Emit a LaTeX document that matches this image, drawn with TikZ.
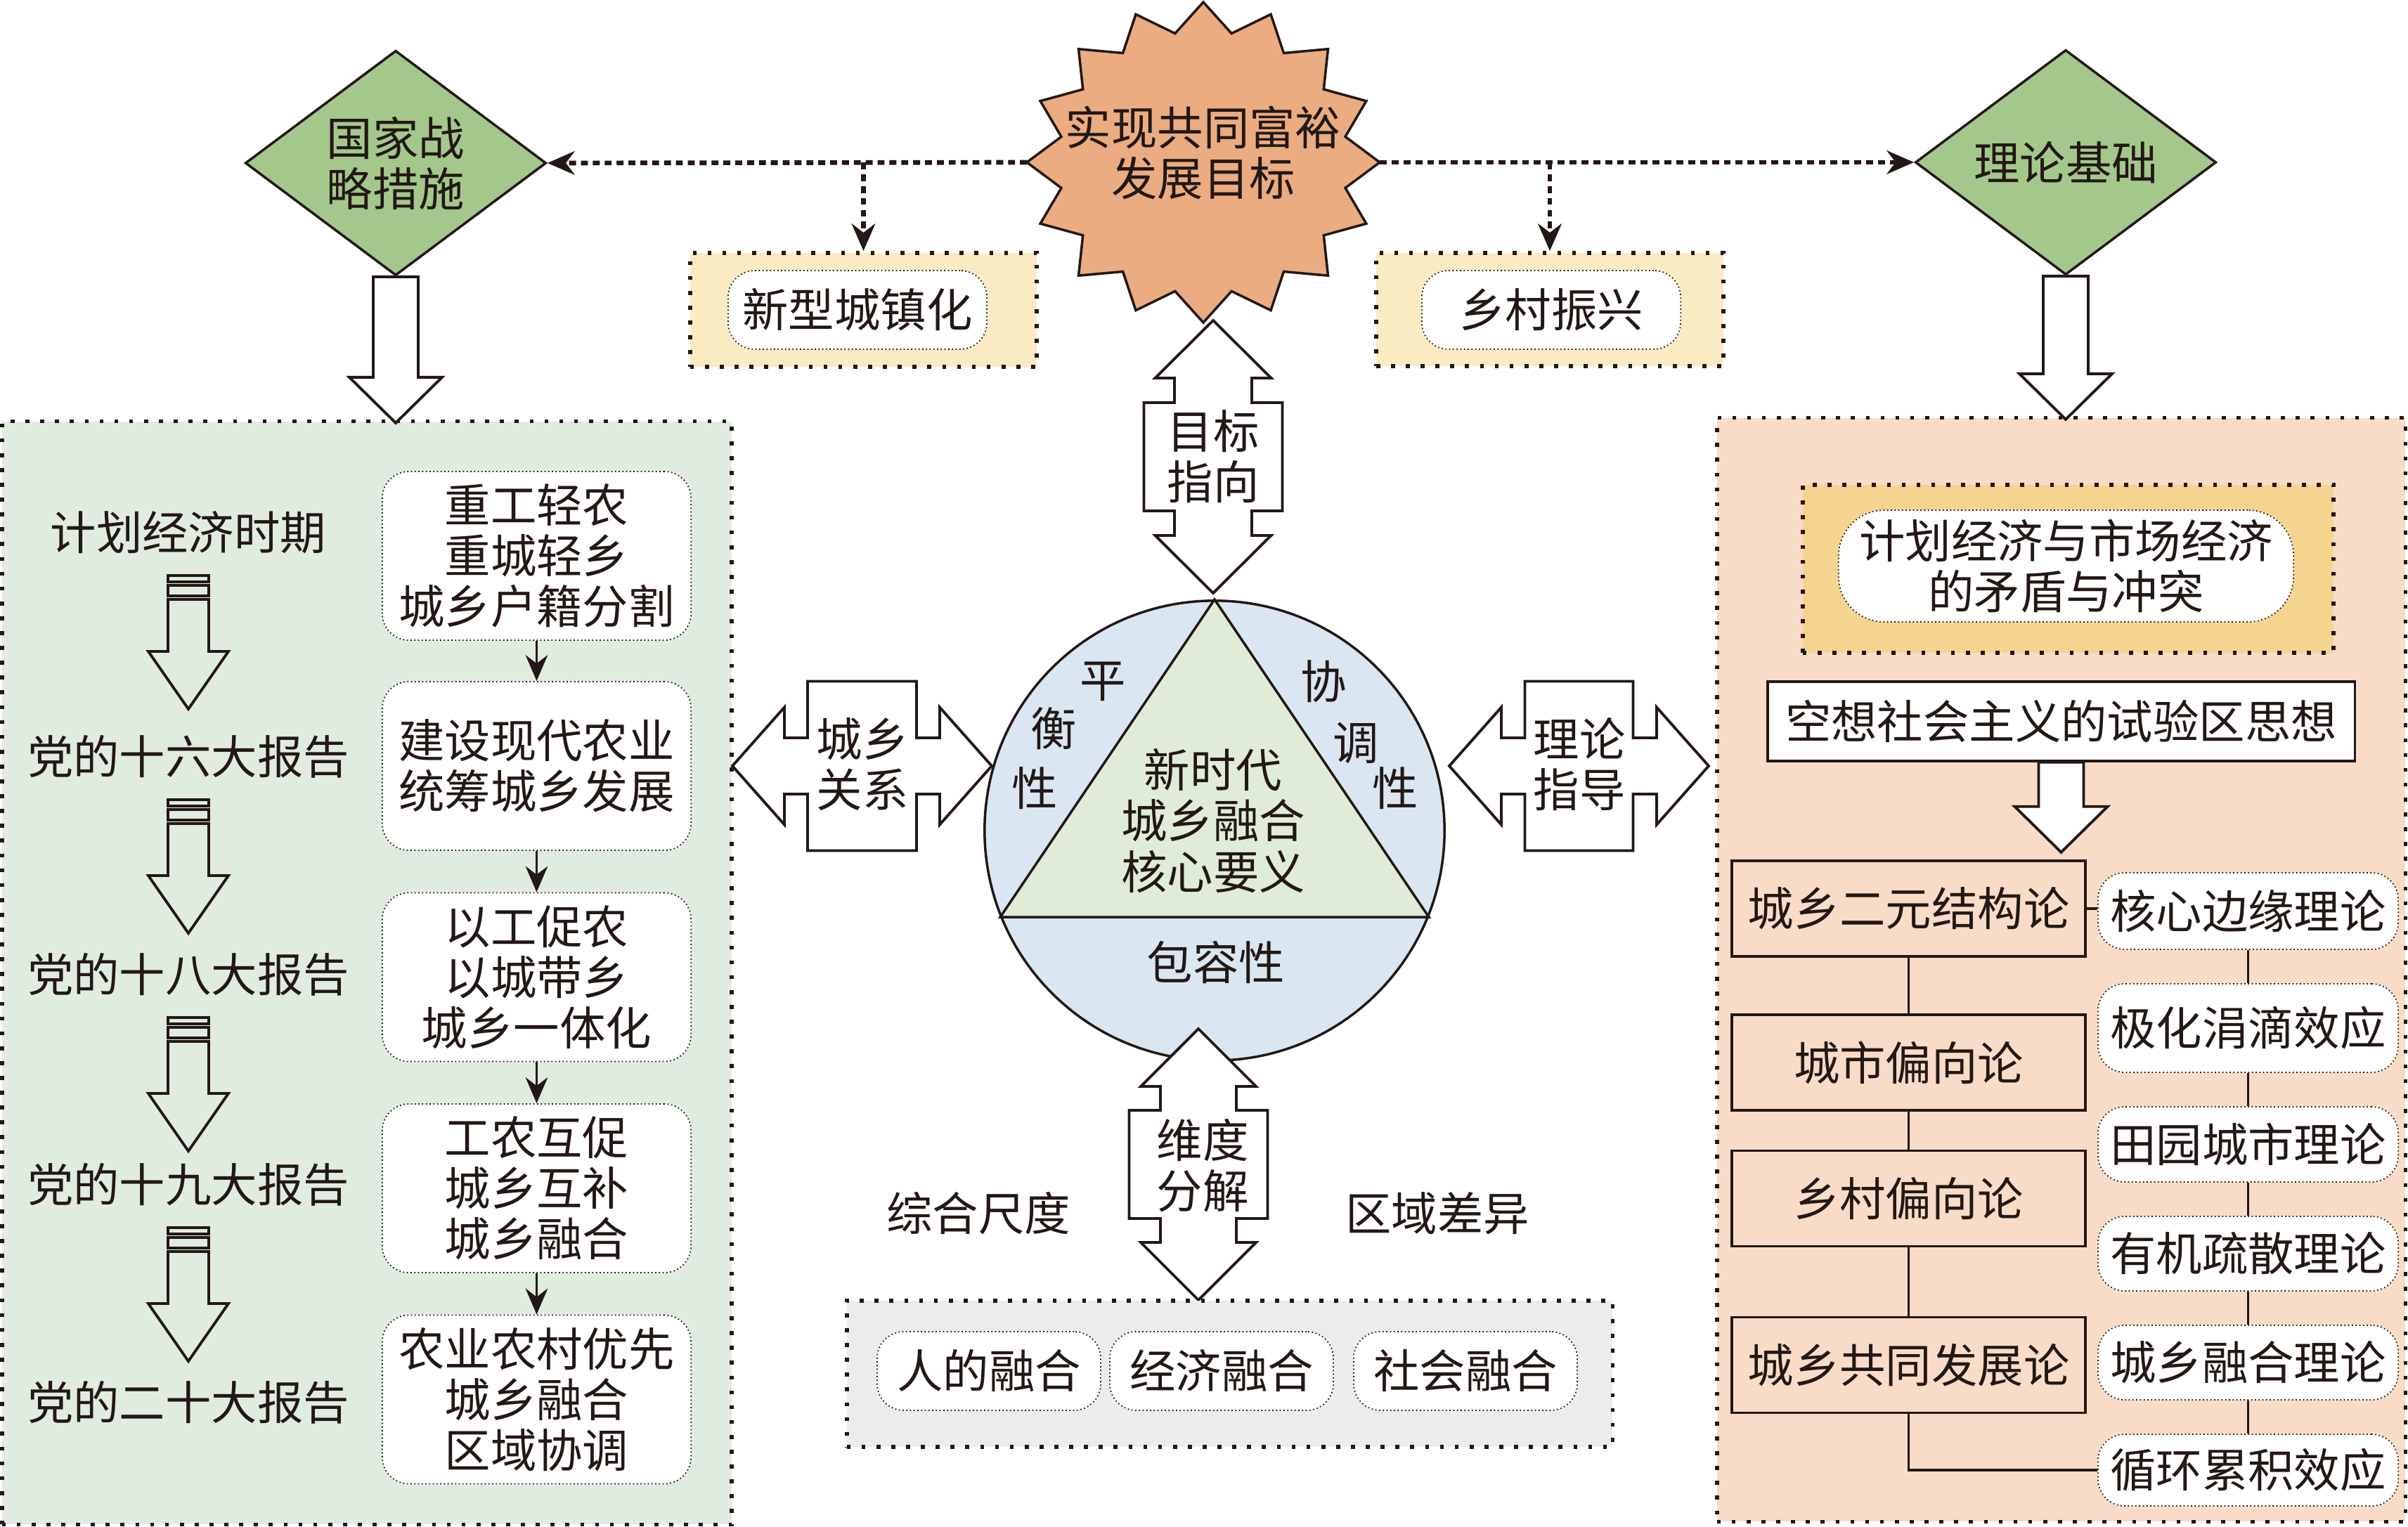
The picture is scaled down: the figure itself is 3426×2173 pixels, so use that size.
\documentclass[tikz,border=0pt]{standalone}
\usepackage{fontspec}
\setmainfont{Noto Sans CJK SC}
\usetikzlibrary{shapes.geometric,arrows.meta,positioning}

\definecolor{ink}{HTML}{231815}
\definecolor{diamondgreen}{HTML}{A4C88B}
\definecolor{goalorange}{HTML}{EAAC80}
\definecolor{leftbg}{HTML}{E1ECE1}
\definecolor{rightbg}{HTML}{F8DCC8}
\definecolor{paleyellow}{HTML}{FBEBC3}
\definecolor{gold}{HTML}{F5D490}
\definecolor{circleblue}{HTML}{DAE6F2}
\definecolor{trigreen}{HTML}{E0ECD8}
\definecolor{palegray}{HTML}{ECECEC}

\newcommand{\fatarrow}[2]{%
  \draw[hollow, fill=white, shift={(#1)}] (-32,0) -- (-32,#2-65) -- (-66,#2-65) -- (0,#2)
    -- (66,#2-65) -- (32,#2-65) -- (32,0) -- cycle;}

\newcommand{\stripedarrow}[1]{%
  \begin{scope}[shift={(#1)}]
    \draw[hollow] (-29,61) rectangle (29,70);
    \draw[hollow] (-29,75) rectangle (29,90);
    \draw[hollow] (-29,95) -- (-29,169) -- (-57,169) -- (0,251) -- (57,169) -- (29,169) -- (29,95) -- cycle;
  \end{scope}}

\newcommand{\dblarrow}[8]{%
  \draw[hollow, fill=white, shift={(#1)}, rotate=#2]
    (-#3,0) -- (-#4,-#6) -- (-#4,-#7) -- (-#5,-#7) -- (-#5,-#8) -- (#5,-#8) -- (#5,-#7)
    -- (#4,-#7) -- (#4,-#6) -- (#3,0) -- (#4,#6) -- (#4,#7) -- (#5,#7) -- (#5,#8)
    -- (-#5,#8) -- (-#5,#7) -- (-#4,#7) -- (-#4,#6) -- cycle;}

\begin{document}
\begin{tikzpicture}[x=0.01cm, y=-0.01cm,
  every node/.style={font=\fontsize{18.6pt}{20.5pt}\selectfont, text=ink, align=center, inner sep=0pt},
  hollow/.style={draw=ink, line width=1.1pt},
  panel/.style={draw=ink, line width=1.6pt, dash pattern=on 1.6pt off 4.4pt},
  pill/.style={draw=ink, densely dotted, line width=0.5pt, rounded corners=0.38cm, fill=white},
  plainbox/.style={draw=ink, line width=1pt, rectangle},
  strategy/.style={diamond, aspect=1.35, draw=ink, line width=1pt, fill=diamondgreen,
    minimum width=4.28cm, minimum height=3.2cm},
  link/.style={draw=ink, line width=1.9pt, dash pattern=on 2.8pt off 2pt,
    -{Stealth[length=11pt,width=9.5pt]}},
  flow/.style={draw=ink, line width=0.8pt, -{Stealth[length=10.5pt,width=9pt]}},
  tie/.style={draw=ink, line width=1pt}]

\useasboundingbox (0,0) rectangle (3426,2173);

\node[panel, fill=leftbg, minimum width=10.38cm, minimum height=15.69cm] (history) at (522,1384.5) {};
\node[panel, fill=rightbg, minimum width=9.79cm, minimum height=15.70cm] (theory) at (2932.5,1380) {};

\node[strategy] (policy) at (563,232) {国家战\\略措施};
\node[strategy] (basis) at (2939,231) {理论基础};

\coordinate (goal) at (1712,231);
\draw[hollow, line width=1pt, fill=goalorange, shift={(goal)}] (0:251 and 228)
  \foreach \a in {0,22.5,...,337.5} { -- (\a:251 and 228) -- ({\a+11.25}:206 and 187) } -- cycle;
\node (goaltext) at (1712,217) {实现共同富裕\\发展目标};
\coordinate (goalW) at (1461,231);
\coordinate (goalE) at (1963,231);

\node[panel, fill=paleyellow, minimum width=4.93cm, minimum height=1.62cm] (urbanbox) at (1228.5,441) {};
\node[pill, minimum width=3.68cm, minimum height=1.12cm] (urban) at (1220,441) {新型城镇化};
\node[panel, fill=paleyellow, minimum width=4.94cm, minimum height=1.61cm] (ruralbox) at (2205,440.5) {};
\node[pill, minimum width=3.68cm, minimum height=1.12cm] (rural) at (2207,441) {乡村振兴};

\draw[link] (goalW) -- (policy.east);
\draw[link] (goalE) -- (basis.west);
\draw[link] (urbanbox.north |- goalW) -- (urbanbox.north);
\draw[link] (ruralbox.north |- goalE) -- (ruralbox.north);

\fatarrow{policy.south}{208}
\fatarrow{basis.south}{204}

\node[circle, draw=ink, line width=1pt, fill=circleblue, minimum size=6.54cm] (core) at (1728,1182) {};
\draw[ink, line width=1pt, fill=trigreen] (core.north) -- (core.-22) -- (core.202) -- cycle;
\node (coretext) at (1726,1168) {新时代\\城乡融合\\核心要义};
\foreach \c/\x/\y [count=\i] in {平/1569/970, 衡/1499/1037, 性/1472/1122}
  \node (bal\i) at (\x,\y) {\c};
\foreach \c/\x/\y [count=\i] in {协/1883/970, 调/1929/1057, 性/1985/1122}
  \node (coo\i) at (\x,\y) {\c};
\node (incl) at (1730,1369) {包容性};

\coordinate (aim) at (1726,650);
\dblarrow{aim}{90}{194}{112}{77}{82.5}{55}{98.5}
\node (aimtext) at (aim) {目标\\指向};
\coordinate (dims) at (1705,1657);
\dblarrow{dims}{90}{193}{111}{77}{82}{54}{98.5}
\node (dimstext) at (1711,1659) {维度\\分解};
\coordinate (relation) at (1226.5,1090);
\dblarrow{relation}{0}{184.5}{110.5}{77.5}{83.5}{40}{120.5}
\node (relationtext) at (1227,1088) {城乡\\关系};
\coordinate (guide) at (2246.5,1090);
\dblarrow{guide}{0}{184.5}{110.5}{77}{83.5}{40}{120.5}
\node (guidetext) at (2247,1088) {理论\\指导};

\node (overall) at (1392,1727) {综合尺度};
\node (regional) at (2045,1727) {区域差异};
\node[panel, fill=palegray, minimum width=10.89cm, minimum height=2.08cm] (facets) at (1749.5,1955) {};
\foreach \t/\x [count=\i] in {人的融合/1407, 经济融合/1738, 社会融合/2085}
  \node[pill, minimum width=3.18cm, minimum height=1.12cm] (facet\i) at (\x,1951) {\t};

\foreach \t/\y [count=\i] in {计划经济时期/758, 党的十六大报告/1077, 党的十八大报告/1387,
    党的十九大报告/1686, 党的二十大报告/1996}
  \node (era\i) at (268,\y) {\t};
\foreach \i in {1,...,4}
  {\stripedarrow{era\i}}

\foreach \t/\y [count=\i] in {{重工轻农\\重城轻乡\\城乡户籍分割}/791, {建设现代农业\\统筹城乡发展}/1090,
    {以工促农\\以城带乡\\城乡一体化}/1390.5, {工农互促\\城乡互补\\城乡融合}/1691,
    {农业农村优先\\城乡融合\\区域协调}/1991.5}
  \node[pill, minimum width=4.39cm, minimum height=2.4cm] (stage\i) at (763.5,\y) {\t};
\foreach \i [evaluate=\i as \j using int(\i+1)] in {1,...,4}
  \draw[flow] (stage\i) -- (stage\j);

\node[panel, fill=gold, minimum width=7.55cm, minimum height=2.39cm] (conflictbox) at (2942.5,809.5) {};
\node[pill, rounded corners=0.65cm, minimum width=6.47cm, minimum height=1.59cm] (conflict) at (2939.5,805.5)
  {计划经济与市场经济\\的矛盾与冲突};
\node[plainbox, fill=white, minimum width=8.35cm, minimum height=1.13cm] (utopia) at (2932.5,1026.5)
  {空想社会主义的试验区思想};
\fatarrow{utopia.south}{128}

\foreach \t/\y [count=\i] in {城乡二元结构论/1293, 城市偏向论/1512, 乡村偏向论/1705.5, 城乡共同发展论/1942.5}
  \node[plainbox, minimum width=5.03cm, minimum height=1.36cm] (school\i) at (2715.5,\y) {\t};
\foreach \t/\y/\h [count=\i] in {核心边缘理论/1296.5/1.09, 极化涓滴效应/1463/1.26, 田园城市理论/1628.5/1.07,
    有机疏散理论/1784/1.06, 城乡融合理论/1939/1.06, 循环累积效应/2092/1.02}
  \node[pill, minimum width=4.27cm, minimum height=\h cm] (idea\i) at (3198.5,\y) {\t};

\foreach \i [evaluate=\i as \j using int(\i+1)] in {1,2,3}
  \draw[tie] (school\i) -- (school\j);
\draw[tie] (school4.south) |- (idea6.west);
\draw[tie] (school1.east) -- (school1.east -| idea1.west);
\foreach \i [evaluate=\i as \j using int(\i+1)] in {1,...,5}
  \draw[tie] (idea\i) -- (idea\j);

\end{tikzpicture}
\end{document}
